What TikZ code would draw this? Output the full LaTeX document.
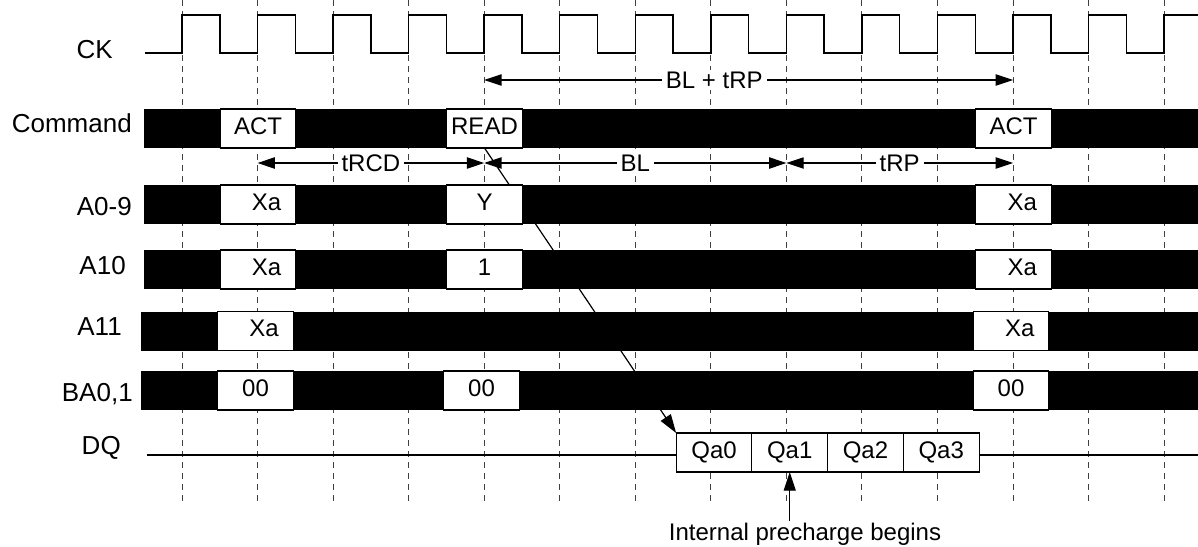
\documentclass[tikz,border=0pt]{standalone}
\usepackage{fontspec}
\setmainfont{Liberation Sans}
\usetikzlibrary{arrows.meta,positioning}
\newcommand\sigfont{\fontsize{18}{21}\selectfont}
\newcommand\rowfont{\fontsize{19.5}{22}\selectfont}
\newcommand\xav{\hspace*{13pt}Xa}
\tikzset{
  gridline/.style={dash pattern=on 4.5pt off 3.75pt, line width=0.7pt, black!75},
  clk/.style={line width=1.1pt},
  valbox/.style={draw, fill=white, line width=0.8pt, minimum width=56.4pt, minimum height=29.25pt,
    inner sep=0pt, outer sep=0pt, text height=12.9pt, text depth=4.5pt, font=\sigfont},
  dqbox/.style={valbox, minimum width=56.8pt},
  timing/.style={{Triangle[length=13pt,width=8.5pt]}-{Triangle[length=13pt,width=8.5pt]}, line width=0.9pt},
  tlabel/.style={fill=white, inner xsep=3pt, inner ysep=1pt, font=\sigfont},
  pointer/.style={-{Triangle[length=14pt,width=9pt]}, line width=0.9pt},
  rowlabel/.style={anchor=base east, inner sep=0pt, font=\rowfont}
}
\begin{document}
\begin{tikzpicture}[x=0.75pt,y=-0.75pt]
  %%%%% timing %%%%%
  \def\xo{182}
  \def\per{75.55}
  \def\hi{15}
  \def\lo{53}
  \useasboundingbox (0,0) rectangle (1198,546);

  \foreach \k in {0,...,13} {
    \coordinate (c\k) at ({\xo+\k*\per},0);
    \draw[gridline] (c\k) -- ++(0,506);
  }
  \coordinate (upper) at (0,80);
  \coordinate (lower) at (0,163);

  \draw[clk] (145,\lo) foreach \k in {0,...,12} {
      -- ({\xo+\k*\per},\lo) -- ({\xo+\k*\per},\hi)
      -- ({\xo+(\k+0.5)*\per},\hi) -- ({\xo+(\k+0.5)*\per},\lo)}
    -- ({\xo+13*\per},\lo) -- ({\xo+13*\per},\hi) -- (1198,\hi);

  \foreach \xl/\yt/\yb in {144/109/148, 144/185/224, 144/250/289, 141/311.5/350.5, 141/371/410}
    \fill (\xl,\yt) rectangle (1198,\yb);

  \draw[clk] (147,455) -- (1198,455);
  \node[dqbox] (qa0) at (714,452.5) {Qa0};
  \node[dqbox, right=0pt of qa0] (qa1) {Qa1};
  \node[dqbox, right=0pt of qa1] (qa2) {Qa2};
  \node[dqbox, right=0pt of qa2] (qa3) {Qa3};

  \node[valbox] (act1) at (258,128.5) {ACT};
  \node[valbox] (rd) at (484.5,128.5) {READ};
  \node[valbox] (act2) at (1013.5,128.5) {ACT};
  \draw[pointer] (rd.south) -- (qa0.north west);

  \node[valbox] (adrx1) at (258,204.5) {\xav};
  \node[valbox] (adry) at (484.5,204.5) {Y};
  \node[valbox] (adrx2) at (1013.5,204.5) {\xav};
  \node[valbox] (apx1) at (258,269.5) {\xav};
  \node[valbox] (ap) at (484.5,269.5) {1};
  \node[valbox] (apx2) at (1013.5,269.5) {\xav};
  \node[valbox] (hix1) at (255.5,331) {\xav};
  \node[valbox] (hix2) at (1011,331) {\xav};
  \node[valbox] (bank1) at (255.5,390.5) {00};
  \node[valbox] (bank2) at (481.5,390.5) {00};
  \node[valbox] (bank3) at (1011,390.5) {00};

  \draw[timing] (c4|-upper) -- node[tlabel, pos=0.435] {BL + tRP} (c11|-upper);
  \draw[timing] (c1|-lower) -- node[tlabel] {tRCD} (c4|-lower);
  \draw[timing] (c4|-lower) -- node[tlabel] {BL} (c8|-lower);
  \draw[timing] (c8|-lower) -- node[tlabel] {tRP} (c11|-lower);

  \node[anchor=base, inner sep=1pt, font=\sigfont] (ipb) at (805,540) {Internal precharge begins};
  \draw[pointer] (ipb.north -| qa1.south) -- (qa1.south);

  \node[rowlabel] (lck) at (113,58) {CK};
  \node[rowlabel] (lcmd) at (132,132) {Command};
  \node[rowlabel] (ladr) at (132,215) {A0-9};
  \node[rowlabel] (lap) at (126,274) {A10};
  \node[rowlabel] (lhi) at (122,335) {A11};
  \node[rowlabel] (lba) at (133,401) {BA0,1};
  \node[rowlabel] (ldq) at (121,454) {DQ};
  %%%%% timing %%%%%
\end{tikzpicture}
\end{document}
